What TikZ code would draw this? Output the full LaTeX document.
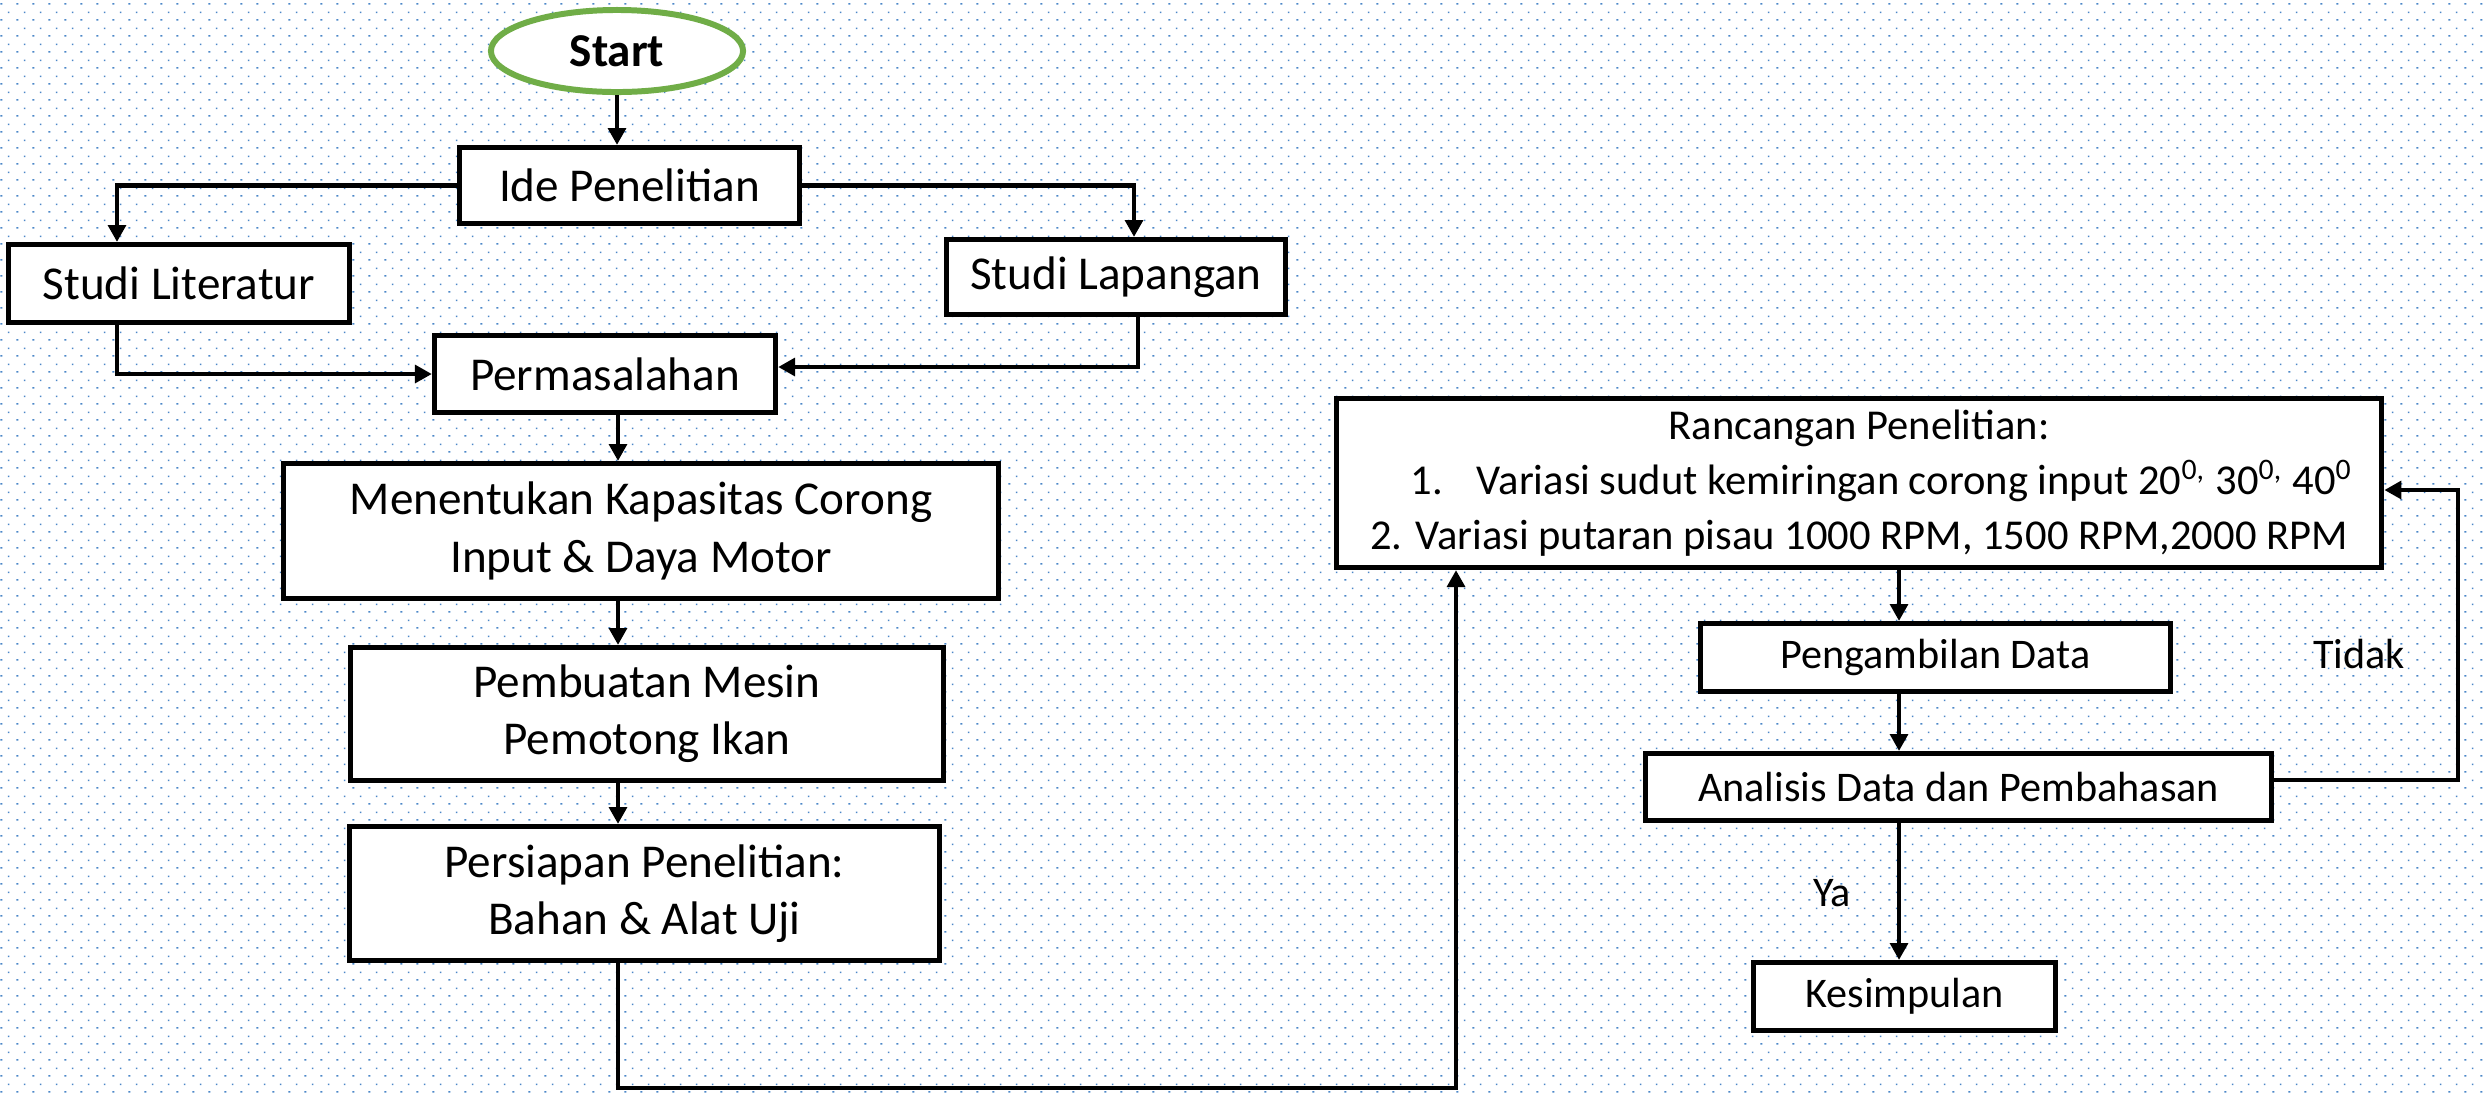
\documentclass[tikz,border=0pt]{standalone}
\usepackage{fontspec}
\setmainfont{Carlito}
\usetikzlibrary{arrows.meta,calc,shapes.geometric,patterns}

\definecolor{startgreen}{RGB}{112,173,71}
\definecolor{dotblue}{RGB}{75,135,200}

\newcommand\bigfs{\fontsize{13.4}{16.3}\selectfont}
\newcommand\rfs{\fontsize{12}{14}\selectfont}
\newcommand\rancfs{\fontsize{12.1}{15.6}\selectfont}

\pgfdeclarepatternformonly{bgdots}{\pgfqpoint{0pt}{0pt}}{\pgfqpoint{4.552pt}{4.552pt}}{\pgfqpoint{4.552pt}{4.552pt}}{
  \pgfpathrectangle{\pgfqpoint{0.4pt}{0.4pt}}{\pgfqpoint{0.6pt}{0.45pt}}
  \pgfpathrectangle{\pgfqpoint{2.7pt}{2.7pt}}{\pgfqpoint{0.45pt}{0.45pt}}
  \pgfusepath{fill}}

\begin{document}
\begin{tikzpicture}[x=0.01cm, y=-0.01cm,
    box/.style={draw, line width=1.45pt, fill=white, inner sep=2pt, align=center, font=\bigfs},
    rbox/.style={box, font=\rfs},
    line/.style={line width=1.2pt},
    arr/.style={line, -{Triangle[length=4.8pt, width=5pt]}}]
  % Background
  \useasboundingbox (0,0) rectangle (2483,1093);
  \fill[white] (0,0) rectangle (2483,1093);
  \fill[pattern=bgdots, pattern color=dotblue] (0,0) rectangle (2483,1093);

  % Start
  \node[ellipse, draw=startgreen, line width=1.7pt, fill=white, minimum width=2.52cm,
        minimum height=0.82cm, font=\bigfs\bfseries] (start) at (617,51) {Start};

  % Left column
  \node[box, minimum width=3.40cm, minimum height=0.76cm] (ide) at (629.5,185.5) {Ide Penelitian};
  \node[box, minimum width=3.41cm, minimum height=0.78cm] (lit) at (179,283.5) {Studi Literatur};
  \node[box, minimum width=3.39cm, minimum height=0.75cm] (lap) at (1116,277) {Studi Lapangan};
  \node[box, minimum width=3.41cm, minimum height=0.77cm] (perm) at (605,374) {Permasalahan};
  \node[box, minimum width=7.14cm, minimum height=1.35cm] (kap) at (641,531)
       {Menentukan Kapasitas Corong\\Input \& Daya Motor};
  \node[box, minimum width=5.92cm, minimum height=1.33cm] (mesin) at (647,714)
       {Pembuatan Mesin\\Pemotong Ikan};
  \node[box, minimum width=5.89cm, minimum height=1.34cm] (siap) at (644.5,893.5)
       {Persiapan Penelitian:\\Bahan \& Alat Uji};

  % Right column
  \node[box, font=\rancfs, minimum width=10.45cm, minimum height=1.69cm] (ranc) at (1859,483)
       {Rancangan Penelitian:\\
        \hspace*{0.45cm}1.\hspace{0.8em}Variasi sudut kemiringan corong input 20\textsuperscript{0,} 30\textsuperscript{0,} 40\textsuperscript{0}\\
        2. Variasi putaran pisau 1000 RPM, 1500 RPM,2000 RPM};
  \node[rbox, minimum width=4.70cm, minimum height=0.68cm] (ambil) at (1935.5,657.5) {Pengambilan Data};
  \node[rbox, minimum width=6.26cm, minimum height=0.67cm] (anal) at (1958.5,787) {Analisis Data dan Pembahasan};
  \node[rbox, minimum width=3.02cm, minimum height=0.68cm] (simp) at (1904.5,996.5) {Kesimpulan};
  \node[font=\rfs] (ya) at (1832,893) {Ya};
  \node[font=\rfs] (tdk) at (2359,654) {Tidak};

  % Connectors
  \coordinate (lspine) at (618,0);
  \coordinate (rspine) at (1899,0);
  \coordinate (low) at (1456,1088);
  \coordinate (back) at (2458,490);

  \draw[arr] (start.south) -- (start.south |- ide.north);
  \draw[arr] (ide.west) -| ($(lit.north)+(-62,0)$);
  \draw[arr] (ide.east) -| ($(lap.north)+(18,0)$);
  \draw[arr] ($(lit.south)+(-62,0)$) |- (perm.west);
  \draw[arr] ($(lap.south)+(22,0)$) |- ($(perm.east)+(0,-7)$);
  \draw[arr] (lspine |- perm.south) -- (lspine |- kap.north);
  \draw[arr] (lspine |- kap.south) -- (lspine |- mesin.north);
  \draw[arr] (lspine |- mesin.south) -- (lspine |- siap.north);
  \draw[arr] (lspine |- siap.south) |- (low) -- (low |- ranc.south);

  \draw[arr] (rspine |- ranc.south) -- (rspine |- ambil.north);
  \draw[arr] (rspine |- ambil.south) -- (rspine |- anal.north);
  \draw[arr] (rspine |- anal.south) -- (rspine |- simp.north);
  \draw[arr] ($(anal.east)+(0,-7)$) -| (back) -- (back -| ranc.east);
\end{tikzpicture}
\end{document}
